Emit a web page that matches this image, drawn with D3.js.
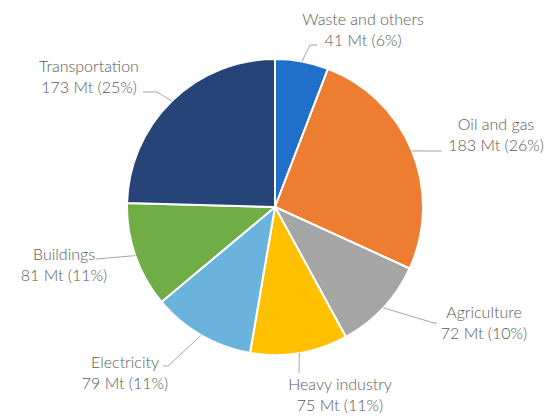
<!DOCTYPE html>
<html>
<head>
<meta charset="utf-8">
<script src="https://cdn.jsdelivr.net/npm/d3@7"></script>
<style>
  body { margin: 0; background: #fff; }
  text { font-family: "Lato", "Open Sans", sans-serif; font-size: 16px; font-weight: 300; fill: #595959; }
</style>
</head>
<body>
<script>
// emissions by sector, Mt
var sectors = ["Waste and others", "Oil and gas", "Agriculture", "Heavy industry", "Electricity", "Buildings", "Transportation"];
var values = [41, 183, 72, 75, 79, 81, 173];
var shares = [6, 26, 10, 11, 11, 11, 25]; // % as printed on the chart
var colors = ["#1F6FCB", "#ED7D31", "#A5A5A5", "#FFC000", "#69B3DD", "#70AD47", "#264478"];

// label placement: text centre x, first baseline y, leader elbow points
var labelLayout = [
  {tx: 363, ty: 25, pts: [[310, 45], [317, 45]]},
  {tx: 496, ty: 130, pts: [[442, 151]]},
  {tx: 484, ty: 318, pts: [[434, 323], [437, 323]]},
  {tx: 340, ty: 390, pts: [[299, 373]]},
  {tx: 125, ty: 368, pts: [[168, 366], [163, 366]]},
  {tx: 64, ty: 260, pts: [[96, 259]]},
  {tx: 89, ty: 72, pts: [[157, 92], [143, 92]]}
];

function chart() {
  var width = 550;
  var height = 416;
  var cx = 275, cy = 207, r = 148;

  var svg = d3.select("body").append("svg")
      .attr("width", width)
      .attr("height", height);

  var rows = sectors.map(function(s, i) {
    return {name: s, value: values[i], share: shares[i], color: colors[i], lab: labelLayout[i]};
  });

  var pie = d3.pie().sort(null).value(function(d) { return d.value; });
  var arc = d3.arc().innerRadius(0).outerRadius(r);
  var arcs = pie(rows);

  var g = svg.append("g").attr("transform", "translate(" + cx + "," + cy + ")");

  g.selectAll("path")
    .data(arcs)
    .enter().append("path")
      .attr("d", arc)
      .attr("fill", function(d) { return d.data.color; })
      .attr("stroke", "#fff")
      .attr("stroke-width", 2);

  // leader lines from slice edge at mid angle
  arcs.forEach(function(d) {
    var mid = (d.startAngle + d.endAngle) / 2;
    var start = [cx + r * Math.sin(mid), cy - r * Math.cos(mid)];
    var pts = [start].concat(d.data.lab.pts);
    svg.append("path")
      .attr("d", d3.line()(pts))
      .attr("fill", "none")
      .attr("stroke", "#A6A6A6")
      .attr("stroke-width", 1);

    var t = svg.append("text")
      .attr("x", d.data.lab.tx)
      .attr("y", d.data.lab.ty)
      .attr("text-anchor", "middle");
    t.append("tspan").attr("x", d.data.lab.tx).text(d.data.name);
    t.append("tspan").attr("x", d.data.lab.tx).attr("dy", 21)
      .text(d.data.value + " Mt (" + d.data.share + "%)");
  });
}
chart();
</script>
</body>
</html>
